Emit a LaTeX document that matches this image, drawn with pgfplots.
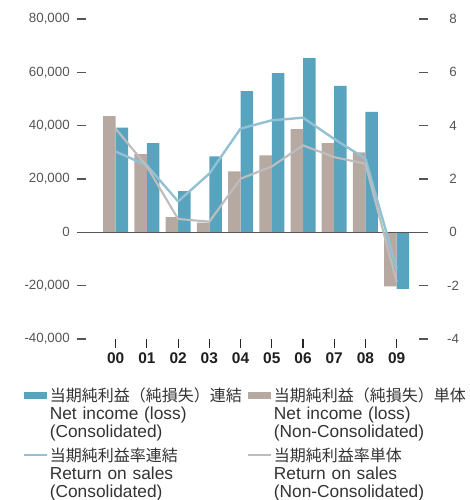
\documentclass[border=0pt]{standalone}
\usepackage{fontspec}
\setmainfont{Liberation Sans}
\newfontfamily\jp{Noto Sans CJK JP}
\usepackage{pgfplots}
\pgfplotsset{compat=1.18}
\definecolor{cbar}{HTML}{58A4BE}
\definecolor{nbar}{HTML}{B6A9A2}
\definecolor{cline}{HTML}{93C0D3}
\definecolor{nline}{HTML}{BDBDBF}
\definecolor{tickc}{HTML}{555555}
\definecolor{legc}{HTML}{333333}

\pgfplotsset{
  barleg/.style={legend image code/.code={\fill[##1] (0pt,-2.6pt) rectangle (17.25pt,2.65pt);}},
  lineleg/.style={legend image code/.code={\draw[##1] (0pt,0.35pt) -- (17.25pt,0.35pt);}},
}

\pgfplotstableread{
x cons noncons crate nrate
0 39300 43600 3.03 3.89
1 33500 29300 2.51 2.47
2 15500 5700 1.16 0.50
3 28500 3600 2.20 0.40
4 53000 22900 3.89 2.01
5 59700 28900 4.20 2.47
6 65300 38700 4.30 3.26
7 54900 33500 3.50 2.82
8 45200 30000 2.76 2.57
9 -21200 -20300 -1.36 -1.86
}\data

\begin{document}
\begin{tikzpicture}[x=1pt,y=1pt]
\path[use as bounding box] (0,0) rectangle (351.75,375);
\begin{axis}[
  at={(64.5pt,120.75pt)}, anchor=south west,
  scale only axis, width=249.75pt, height=240pt,
  xmin=-0.95, xmax=9.715, ymin=-40000, ymax=80000,
  clip=false,
  axis line style={draw=none},
  ytick={-40000,-20000,0,20000,40000,60000,80000},
  xtick={0,...,9},
  xticklabels={00,01,02,03,04,05,06,07,08,09},
  tick align=outside, ytick pos=left, xtick pos=bottom,
  major tick length=6.75pt,
  xtick style={draw=black!85, line width=0.8pt},
  ytick style={draw=tickc, line width=0.8pt},
  scaled y ticks=false,
  /pgf/number format/assume math mode=true,
  /pgf/number format/1000 sep={,},
  yticklabel style={inner sep=0pt, xshift=-5.25pt, font=\fontsize{10}{12}\selectfont, text=tickc},
  xticklabel style={inner sep=0pt, anchor=north, yshift=-3pt, font=\fontsize{11.6}{13}\selectfont\bfseries, text=black!88},
  legend columns=2,
  legend cell align=left,
  legend style={at={(-0.189,-0.143)}, anchor=north west, draw=none, fill=none,
    inner sep=0pt, row sep=29.5pt, column sep=-1pt,
    font=\fontsize{13}{13.5}\selectfont, text=legc,
    /tikz/every even column/.append style={text width=147.2pt, align=left}},
]
\addplot[ybar, bar width=9.375pt, bar shift=4.69pt, fill=cbar, draw=none, barleg]
  table[x=x,y=cons]{\data};
\addlegendentry{{\jp\fontsize{12}{13.5}\selectfont 当期純利益（純損失）連結}\\Net income (loss)\\(Consolidated)}
\addplot[ybar, bar width=9.375pt, bar shift=-4.69pt, fill=nbar, draw=none, barleg]
  table[x=x,y=noncons]{\data};
\addlegendentry{{\jp\fontsize{12}{13.5}\selectfont 当期純利益（純損失）単体}\\Net income (loss)\\(Non-Consolidated)}
\addlegendimage{cline, line width=1.6pt, lineleg}
\addlegendentry{{\jp\fontsize{12}{13.5}\selectfont 当期純利益率連結}\\Return on sales\\(Consolidated)}
\addlegendimage{nline, line width=1.6pt, lineleg}
\addlegendentry{{\jp\fontsize{12}{13.5}\selectfont 当期純利益率単体}\\Return on sales\\(Non-Consolidated)}
\draw[draw=tickc, line width=0.9pt] (axis cs:-1.238,0) -- (axis cs:10.003,0);
\end{axis}
\begin{axis}[
  at={(64.5pt,120.75pt)}, anchor=south west,
  scale only axis, width=249.75pt, height=240pt,
  xmin=-0.95, xmax=9.715, ymin=-4, ymax=8,
  axis line style={draw=none},
  xtick=\empty,
  ytick={-4,-2,0,2,4,6,8},
  ytick pos=right, tick align=outside,
  major tick length=6.75pt,
  ytick style={draw=tickc, line width=0.8pt},
  /pgf/number format/assume math mode=true,
  yticklabel style={inner sep=0pt, anchor=center, xshift=18.75pt, font=\fontsize{10}{12}\selectfont, text=tickc},
]
\addplot[cline, line width=1.8pt, line join=round] table[x=x,y=crate]{\data};
\addplot[nline, line width=1.6pt, line join=round] table[x=x,y=nrate]{\data};
\end{axis}
\end{tikzpicture}
\end{document}
